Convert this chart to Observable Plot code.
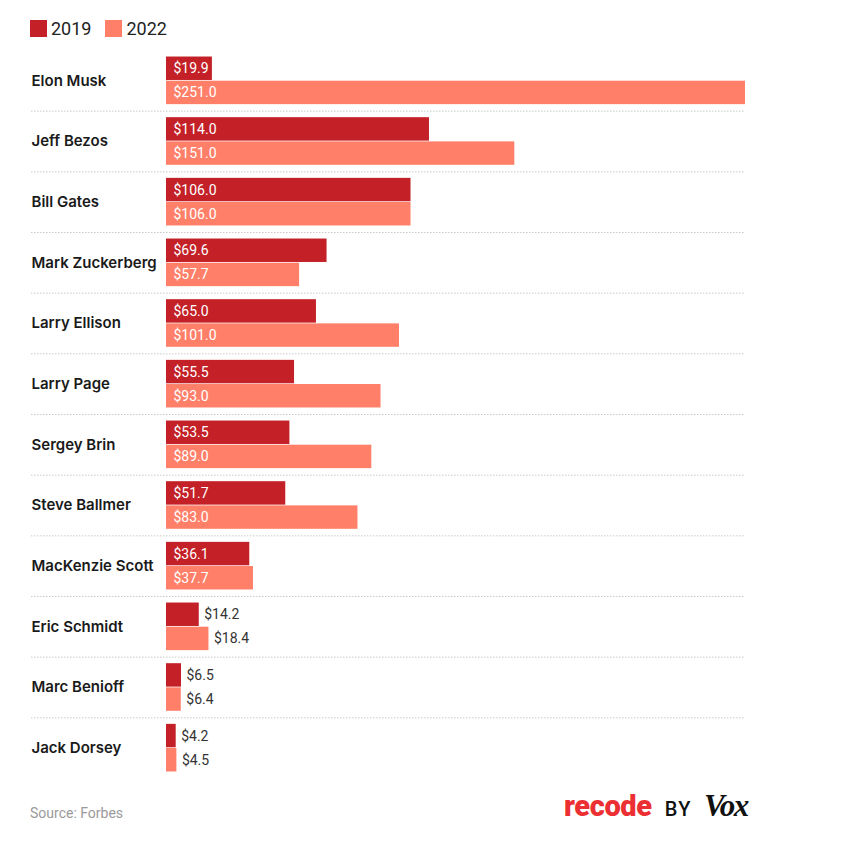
<!DOCTYPE html>
<html>
<head>
<meta charset="utf-8">
<script src="https://cdn.jsdelivr.net/npm/d3@7"></script>
<script src="https://cdn.jsdelivr.net/npm/@observablehq/plot@0.6"></script>
<style>
  html, body { margin: 0; padding: 0; background: #fff; }
  body { width: 850px; height: 848px; position: relative; font-family: Roboto, "Noto Sans", sans-serif; overflow: hidden; }
  #legend { position: absolute; left: 30px; top: 18px; display: flex; align-items: center; font-size: 18px; color: #222; }
  #legend .sw { width: 17px; height: 17px; display: inline-block; margin-right: 4px; }
  #legend .item { display: flex; align-items: center; margin-right: 14px; }
  #chart { position: absolute; left: 0; top: 46px; }
  #source { position: absolute; left: 30px; top: 805px; font-size: 14px; color: #9a9a9a; }
  #logo { position: absolute; left: 564px; top: 788px; display: flex; align-items: baseline; white-space: nowrap; }
  #logo .recode { font-family: Roboto, sans-serif; font-weight: 900; font-size: 29px; color: #ec2f33; letter-spacing: -0.4px; }
  #logo .by { font-family: Roboto, sans-serif; font-weight: 500; font-size: 20px; color: #111; margin-left: 13px; letter-spacing: 1.5px; }
  #logo .vox { font-family: "Liberation Serif", "DejaVu Serif", serif; font-weight: 700; font-style: italic; font-size: 31px; color: #111; margin-left: 12px; letter-spacing: -1.5px; }
</style>
</head>
<body>
<div id="legend"></div>
<div id="chart"></div>
<div id="source">Source: Forbes</div>
<div id="logo"><span class="recode">recode</span><span class="by">BY</span><span class="vox">Vox</span></div>
<script>
const names = ["Elon Musk", "Jeff Bezos", "Bill Gates", "Mark Zuckerberg", "Larry Ellison", "Larry Page",
  "Sergey Brin", "Steve Ballmer", "MacKenzie Scott", "Eric Schmidt", "Marc Benioff", "Jack Dorsey"];
const years = ["2019", "2022"];
const worth2019 = [19.9, 114.0, 106.0, 69.6, 65.0, 55.5, 53.5, 51.7, 36.1, 14.2, 6.5, 4.2];
const worth2022 = [251.0, 151.0, 106.0, 57.7, 101.0, 93.0, 89.0, 83.0, 37.7, 18.4, 6.4, 4.5];
const colors = ["#c32127", "#ff7f69"];

const table = names.flatMap((name, i) => [
  {name, year: years[0], value: worth2019[i]},
  {name, year: years[1], value: worth2022[i]}
]);

// legend
const legend = document.getElementById("legend");
years.forEach((y, i) => {
  const item = document.createElement("span");
  item.className = "item";
  item.innerHTML = `<span class="sw" style="background:${colors[i]}"></span><span>${y}</span>`;
  legend.appendChild(item);
});

const width = 850, height = 733;
const marginLeft = 166, marginRight = 105, marginTop = 4, marginBottom = 1;
const x = d3.scaleLinear().domain([0, 251]).range([marginLeft, width - marginRight]);
const fits = d => x(d.value) - x(0) > 44;
const fmt = d => "$" + d.value.toFixed(1);
const rowH = (height - marginTop - marginBottom) / names.length;

const chart = Plot.plot({
  width, height, marginLeft, marginRight, marginTop, marginBottom,
  style: {fontFamily: "Roboto, sans-serif", background: "transparent"},
  x: {domain: [0, 251], axis: null},
  y: {domain: years, axis: null, paddingInner: 0.03, paddingOuter: 0.27, round: false},
  fy: {domain: names, axis: null, padding: 0, round: false},
  color: {domain: years, range: colors},
  marks: [
    Plot.ruleY(names.slice(1), {fy: d => d, y: null, dy: -rowH / 2, insetLeft: -(marginLeft - 31),
      stroke: "#c9c9c9", strokeWidth: 1, strokeDasharray: "1.5,1.5"}),
    Plot.barX(table, {fy: "name", y: "year", x: "value", fill: "year"}),
    Plot.text(table.filter(fits), {fy: "name", y: "year", text: fmt, frameAnchor: "left", dx: 7,
      textAnchor: "start", fill: "white", fontSize: 14}),
    Plot.text(table.filter(d => !fits(d)), {fy: "name", y: "year", x: "value", text: fmt, dx: 5,
      textAnchor: "start", fill: "#333", fontSize: 14}),
    Plot.text(names, {fy: d => d, text: d => d, frameAnchor: "left", dx: -(marginLeft - 31),
      textAnchor: "start", fill: "#1a1a1a", fontSize: 15, fontWeight: 600, fontFamily: "Inter, Roboto, sans-serif"})
  ]
});
document.getElementById("chart").appendChild(chart);
</script>
</body>
</html>
